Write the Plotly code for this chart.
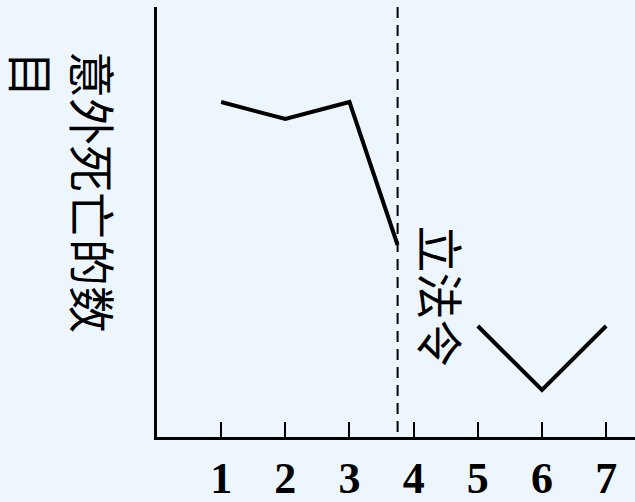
import plotly.graph_objects as go

# data (arbitrary units)
years_before = [1, 2, 3, 3.75]
deaths_before = [335, 318, 335, 192]
years_after = [5, 6, 7]
deaths_after = [111, 47, 111]
law_x = 3.75
tick_vals = [1, 2, 3, 4, 5, 6, 7]
tick_text = ["1", "2", "3", "4", "5", "6", "7"]
y_title = "意外死亡的数<br>目"
law_label = "立法令"

bg = "#EEF6FD"
fig = go.Figure()
fig.add_trace(go.Scatter(x=years_before + [None] + years_after,
                         y=deaths_before + [None] + deaths_after,
                         mode="lines", line=dict(color="black", width=4),
                         connectgaps=False, showlegend=False, hoverinfo="skip"))

fig.add_shape(type="line", xref="x", yref="paper", x0=law_x, x1=law_x, y0=1, y1=0,
              line=dict(color="black", width=2, dash="11px,7px"))

fig.add_annotation(text=y_title, xref="paper", yref="paper",
                   x=(64 - 157) / 478, y=(437 - 192) / 430, xanchor="center", yanchor="middle",
                   textangle=90, align="left", showarrow=False,
                   font=dict(family="Noto Sans CJK SC", size=47, color="black"))
fig.add_annotation(text=law_label, xref="x", yref="paper",
                   x=law_x, xshift=45, y=(437 - 296) / 430, xanchor="center", yanchor="middle",
                   textangle=90, showarrow=False,
                   font=dict(family="Noto Sans CJK SC", size=47, color="black"))

fig.update_layout(
    width=635, height=502,
    margin=dict(l=157, r=0, t=7, b=65),
    paper_bgcolor=bg, plot_bgcolor=bg,
    xaxis=dict(range=[0, 7.45], tickvals=tick_vals, ticktext=tick_text,
               ticks="inside", ticklen=15, tickwidth=2, tickcolor="black",
               showline=True, linecolor="black", linewidth=2.5,
               showgrid=False, zeroline=False,
               tickfont=dict(family="Liberation Serif", size=44, color="black", weight="bold")),
    yaxis=dict(range=[0, 430], showline=True, linecolor="black", linewidth=2.5,
               showgrid=False, zeroline=False, showticklabels=False, ticks=""),
)
fig.write_html("out.html", config={"displayModeBar": False},
               post_script="document.body.style.margin='0';document.body.style.background='" + bg + "';")
